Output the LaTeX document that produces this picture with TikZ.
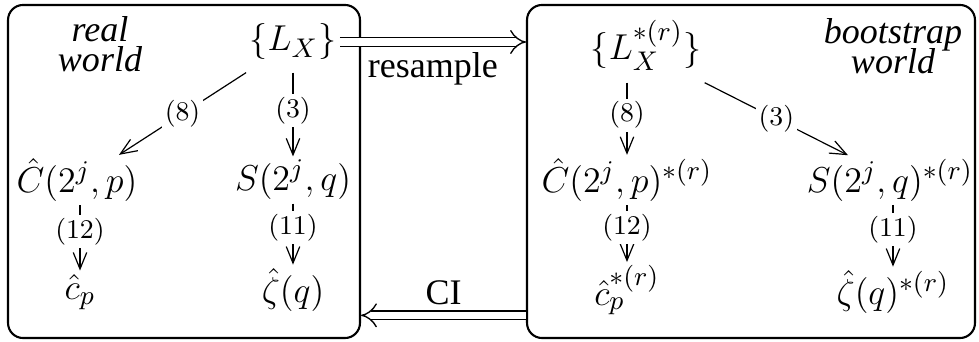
\documentclass[tikz,border=0pt]{standalone}
\usepackage[no-math]{fontspec}
\setmainfont{Liberation Serif}
\usetikzlibrary{arrows.meta,positioning}

\begin{document}
\begin{tikzpicture}[
    x=0.3333pt, y=-0.3333pt,
    world/.style={draw, line width=0.7pt, rounded corners=5pt},
    qty/.style={font=\fontsize{12.7}{15}\selectfont, inner sep=1pt},
    tag/.style={font=\large\itshape, align=center, inner sep=0pt},
    eqref/.style={fill=white, font=\fontsize{9.5}{11}\selectfont, inner sep=1pt},
    arrow/.style={-{Straight Barb[length=5.5pt, width=4.5pt]}, line width=0.4pt},
    dbl/.style={double, double distance=2.4pt, line width=0.45pt, -{Implies}}
]
    \useasboundingbox (0,0) rectangle (979,342);

    % Worlds
    \node[world, minimum width=117.3pt, minimum height=111pt] (real) at (184,171.5) {};
    \node[world, minimum width=149.3pt, minimum height=111pt] (boot) at (751,171.5) {};

    % Real world
    \node[tag] (realtag) at (100,44) {real\\[-4pt]world};
    \node[qty] (LX) at (293,42) {$\{L_X\}$};
    \node[qty] (C) at (77,180) {$\hat C(2^j,p)$};
    \node[qty] (S) at (293,180) {$S(2^j,q)$};
    \node[qty] (cp) at (80,292) {$\hat c_p$};
    \node[qty] (zeta) at (293,290) {$\hat\zeta(q)$};

    % Bootstrap world
    \node[tag] (boottag) at (893,46) {bootstrap\\[-4pt]world};
    \node[qty] (LXs) at (646,45) {$\{L_X^{*(r)}\}$};
    \node[qty] (Cs) at (627,180) {$\hat C(2^j,p)^{*(r)}$};
    \node[qty] (Ss) at (890,180) {$S(2^j,q)^{*(r)}$};
    \node[qty] (cps) at (627,290) {$\hat c_p^{*(r)}$};
    \node[qty] (zetas) at (893,292) {$\hat\zeta(q)^{*(r)}$};

    % Estimation steps
    \draw[arrow] ([yshift=-3pt]LX.south west) -- node[eqref] {$(8)$} ([xshift=14pt]C.north);
    \draw[arrow] ([yshift=-3pt]LX.south) -- node[eqref, pos=0.45] {$(3)$} (S);
    \draw[arrow] (cp |- C.south) -- node[eqref, pos=0.4] {$(12)$} (cp);
    \draw[arrow] (zeta |- S.south) -- node[eqref, pos=0.4] {$(11)$} (zeta);

    \draw[arrow] ([yshift=-3pt]Cs |- LXs.south) -- node[eqref, pos=0.45] {$(8)$} (Cs);
    \draw[arrow] ([yshift=-3pt]LXs.south east) -- node[eqref] {$(3)$} ([xshift=-14pt]Ss.north);
    \draw[arrow] (Cs.south) -- node[eqref, pos=0.4] {$(12)$} (cps);
    \draw[arrow] (zetas |- Ss.south) -- node[eqref, pos=0.4] {$(11)$} (zetas);

    % Between worlds
    \draw[dbl] (LX.east) -- node[below, font=\large] {resample} (LX.east -| boot.west);
    \draw[dbl] (boot.west |- zeta.south) -- node[above, font=\large] {CI} (real.east |- zeta.south);
\end{tikzpicture}
\end{document}
